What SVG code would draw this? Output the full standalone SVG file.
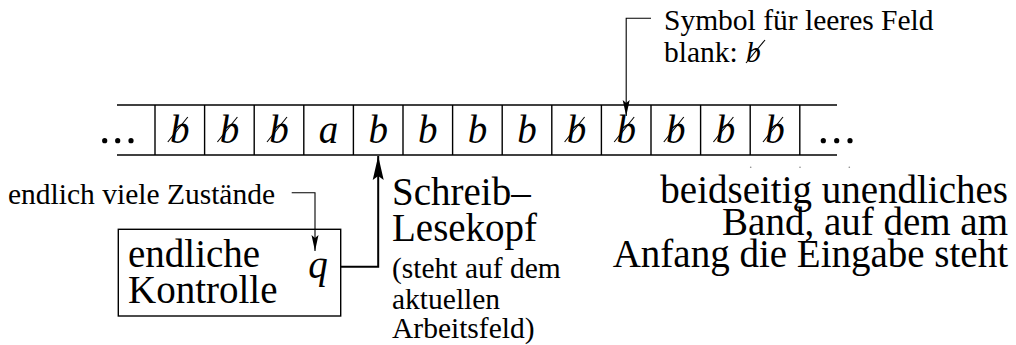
<svg xmlns="http://www.w3.org/2000/svg" xmlns:xlink="http://www.w3.org/1999/xlink" width="1016" height="345" viewBox="0 0 1016 345">
<style>
.t{font-family:"Liberation Serif","Times New Roman",serif;fill:#000}
.big{font-size:39px}
.small{font-size:29.5px}
.it{font-style:italic}
.ln{stroke:#000;fill:none;stroke-width:1.4}
.thin{stroke:#000;fill:none;stroke-width:1.1}
.thick{stroke:#000;fill:none;stroke-width:2}
.dot{fill:#000}
</style>
<defs>
<marker id="ah" markerUnits="userSpaceOnUse" markerWidth="18" markerHeight="8" refX="16" refY="4" orient="auto"><path d="M0,0.5 L16,4 L0,7.5 L3,4 z" fill="#000"/></marker>
<marker id="ahb" markerUnits="userSpaceOnUse" markerWidth="26" markerHeight="12" refX="24" refY="6" orient="auto"><path d="M0,0.5 L24,6 L0,11.5 L4,6 z" fill="#000"/></marker>
<g id="blank"><text class="t big it" x="0" y="143" text-anchor="middle">b</text><line class="thin" x1="-12" y1="142" x2="8" y2="117"/></g>
</defs>
<rect width="1016" height="345" fill="#fff"/>
<g id="tape">
<line class="ln" x1="117" y1="105" x2="837" y2="105"/>
<line class="ln" x1="117" y1="155" x2="837" y2="155"/>
<path class="ln" d="M155,105V155M204.6,105V155M254.2,105V155M303.8,105V155M353.4,105V155M403,105V155M452.6,105V155M502.2,105V155M551.8,105V155M601.4,105V155M651,105V155M700.6,105V155M750.2,105V155M799.8,105V155"/>
<circle class="dot" cx="104.7" cy="140.7" r="2.6"/><circle class="dot" cx="117.7" cy="140.7" r="2.6"/><circle class="dot" cx="131" cy="140.7" r="2.6"/>
<circle class="dot" cx="823.3" cy="140.7" r="2.6"/><circle class="dot" cx="836.7" cy="140.7" r="2.6"/><circle class="dot" cx="850" cy="140.7" r="2.6"/>
<use xlink:href="#blank" x="179.8"/>
<use xlink:href="#blank" x="229.4"/>
<use xlink:href="#blank" x="279"/>
<text class="t big it" x="328.6" y="143" text-anchor="middle">a</text>
<text class="t big it" x="378.2" y="143" text-anchor="middle">b</text>
<text class="t big it" x="427.8" y="143" text-anchor="middle">b</text>
<text class="t big it" x="477.4" y="143" text-anchor="middle">b</text>
<text class="t big it" x="527" y="143" text-anchor="middle">b</text>
<use xlink:href="#blank" x="576.6"/>
<use xlink:href="#blank" x="626.2"/>
<use xlink:href="#blank" x="675.8"/>
<use xlink:href="#blank" x="725.4"/>
<use xlink:href="#blank" x="775"/>
<circle fill="#888" cx="750.7" cy="167.3" r="0.8"/><circle fill="#888" cx="800" cy="167.3" r="0.8"/><circle fill="#888" cx="849.3" cy="167.3" r="0.8"/>
</g>
<g id="control">
<rect x="118.3" y="229.3" width="222.4" height="86.7" class="ln"/>
<text class="t big" x="128" y="267">endliche</text>
<text class="t big" x="128" y="303">Kontrolle</text>
<text class="t big it" x="318" y="278" text-anchor="middle">q</text>
</g>
<g id="label-blank">
<text class="t small" x="664" y="30">Symbol für leeres Feld</text>
<text class="t small" x="664" y="61.5">blank:</text>
<text class="t small it" x="746" y="61.5">b</text>
<line class="thin" x1="746" y1="63" x2="765" y2="40"/>
</g>
<g id="label-states">
<text class="t small" x="8" y="204">endlich viele Zustände</text>
</g>
<g id="label-head">
<text class="t big" x="392" y="205">Schreib–</text>
<text class="t big" x="392" y="241">Lesekopf</text>
<text class="t small" x="392" y="278">(steht auf dem</text>
<text class="t small" x="392" y="309">aktuellen</text>
<text class="t small" x="392" y="338">Arbeitsfeld)</text>
</g>
<g id="label-tape">
<text class="t big" x="1008" y="203" text-anchor="end">beidseitig unendliches</text>
<text class="t big" x="1008" y="235" text-anchor="end">Band, auf dem am</text>
<text class="t big" x="1008" y="267" text-anchor="end">Anfang die Eingabe steht</text>
</g>
<g id="connectors">
<path class="thin" d="M651,18.3H626.2V116" marker-end="url(#ah)"/>
<path class="thin" d="M291.7,192.7H315V251" marker-end="url(#ah)"/>
<path class="thick" d="M340.7,266.7H378.2V156" marker-end="url(#ahb)"/>
</g>
</svg>
